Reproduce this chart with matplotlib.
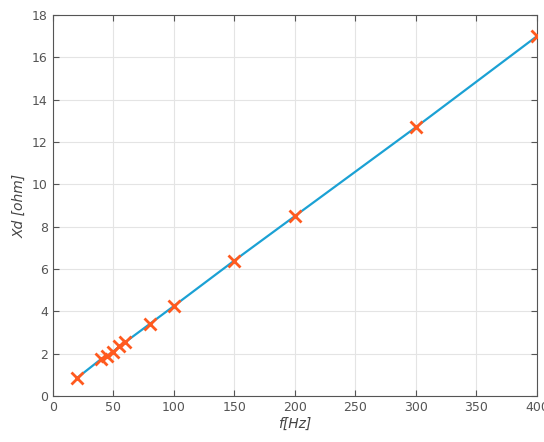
import matplotlib
matplotlib.use('Agg')
import matplotlib.pyplot as plt

# frequency and reactance readings
freq = [20, 40, 45, 50, 55, 60, 80, 100, 150, 200, 300, 400]
xd = [0.85, 1.75, 1.9, 2.1, 2.35, 2.55, 3.4, 4.25, 6.4, 8.5, 12.7, 17.0]

x_ticks = [0, 50, 100, 150, 200, 250, 300, 350, 400]
y_ticks = [0, 2, 4, 6, 8, 10, 12, 14, 16, 18]

fig = plt.figure(figsize=(5.44, 4.42), dpi=100)
ax = fig.add_axes([0.097, 0.104, 0.89, 0.862])

ax.plot(freq, xd, color='#1ba1d4', linewidth=1.6, zorder=2)
ax.plot(freq, xd, linestyle='none', marker='x', markersize=9, markeredgewidth=2,
        color='#ff5a1f', zorder=3)

ax.set_xlim(0, 400)
ax.set_ylim(0, 18)
ax.set_xticks(x_ticks)
ax.set_yticks(y_ticks)
ax.grid(True, color='#e4e4e4', linewidth=0.8)
ax.set_axisbelow(True)
ax.tick_params(direction='in', top=True, right=True, colors='#555555',
               labelsize=9, length=4)
for s in ax.spines.values():
    s.set_color('#555555')
    s.set_linewidth(0.8)

ax.set_xlabel('f[Hz]', style='italic', color='#444444', fontsize=10, labelpad=2)
ax.set_ylabel('Xd [ohm]', style='italic', color='#444444', fontsize=10, labelpad=4)

fig.savefig('out.png', dpi=100, facecolor='white')
